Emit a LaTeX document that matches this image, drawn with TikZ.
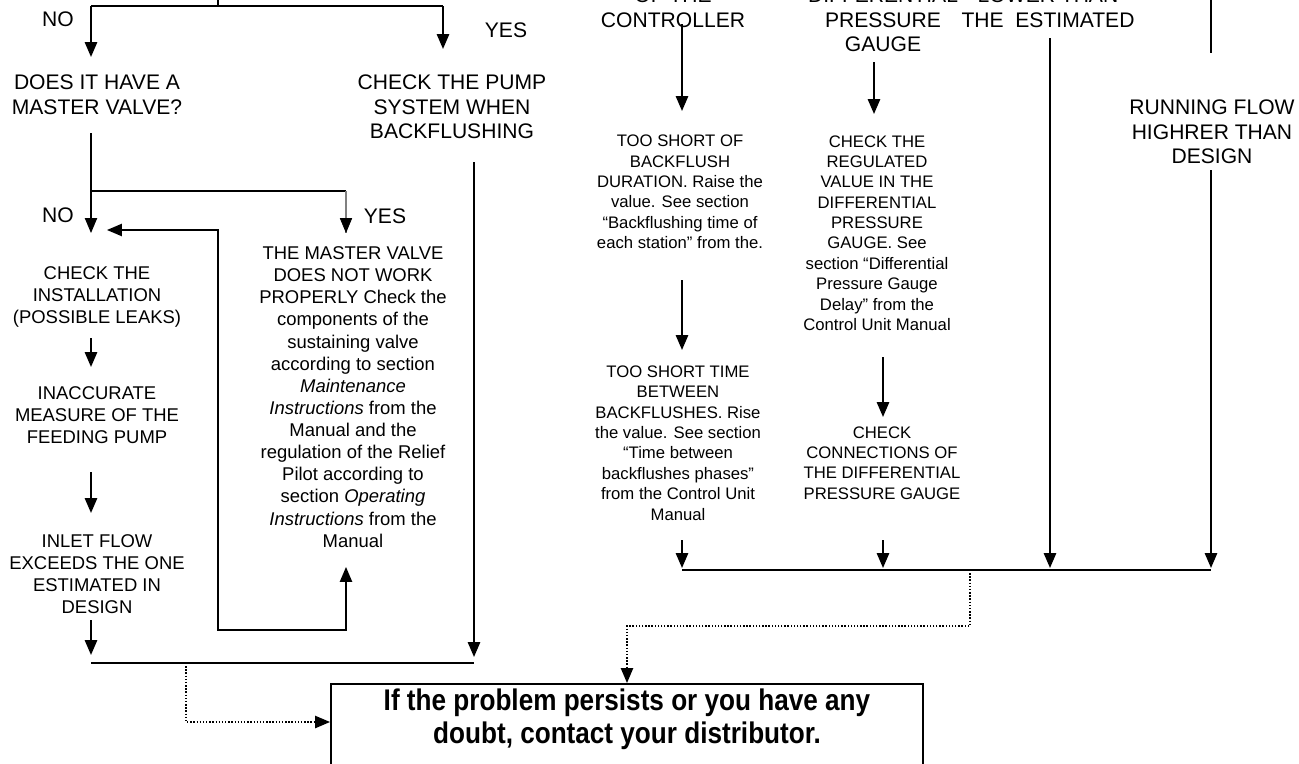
\documentclass[tikz,border=0pt]{standalone}
\usepackage{fontspec}
\setmainfont{Liberation Sans}
\newfontfamily\boxfont{Liberation Sans}[FakeStretch=0.875]
\usetikzlibrary{arrows.meta}

\begin{document}
\begin{tikzpicture}[x=0.02cm,y=-0.02cm,
  bigtxt/.style={align=center,inner sep=0pt,font=\fontsize{12}{14}\selectfont},
  lowtxt/.style={align=center,inner sep=0pt,font=\fontsize{10.5}{12.6}\selectfont},
  smalltxt/.style={align=center,inner sep=0pt,font=\fontsize{9.5}{11.6}\selectfont},
  finalbox/.style={draw,line width=1.1pt,minimum width=592*0.02cm,anchor=north,
    inner xsep=0pt,inner ysep=2.6pt,align=center,font=\boxfont\bfseries\fontsize{17}{18.7}\selectfont},
  tip/.style={-{Triangle[length=8.5pt,width=7pt]}},
  flow/.style={tip,line width=1.1pt},
  thin/.style={line width=0.6pt},
  bar/.style={line width=1.7pt},
  dots/.style={tip,densely dotted,line width=0.8pt}]
\useasboundingbox (0,0) rectangle (1299,764);
\clip (0,0) rectangle (1299,764);

\node[bigtxt] (noA) at (58,19) {NO};
\node[bigtxt] (yesA) at (506,30) {YES};
\node[bigtxt] (qmv) at (97,95) {DOES IT HAVE A\\MASTER VALVE?};
\node[bigtxt] (pump) at (452,107) {CHECK THE PUMP\\SYSTEM WHEN\\BACKFLUSHING};
\node[bigtxt] (noB) at (58,215) {NO};
\node[bigtxt] (yesB) at (385,216) {YES};

\node[lowtxt] (inst) at (97,297) {CHECK THE\\INSTALLATION\\(POSSIBLE LEAKS)};
\node[lowtxt] (meas) at (97,415) {INACCURATE\\MEASURE OF THE\\FEEDING PUMP};
\node[lowtxt] (inlet) at (97,574) {INLET FLOW\\EXCEEDS THE ONE\\ESTIMATED IN\\DESIGN};
\node[lowtxt] (mvbad) at (353,397) {THE MASTER VALVE\\DOES NOT WORK\\PROPERLY Check the\\components of the\\sustaining valve\\according to section\\\textit{Maintenance}\\\textit{Instructions} from the\\Manual and the\\regulation of the Relief\\Pilot according to\\section \textit{Operating}\\\textit{Instructions} from the\\Manual};

\node[bigtxt] (ctrl) at (673,8) {OF THE\\CONTROLLER};
\node[bigtxt] (dpg) at (883,20) {DIFFERENTIAL\\PRESSURE\\GAUGE};
\node[bigtxt] (lower) at (1048,8) {LOWER THAN\\THE\ \ ESTIMATED};
\node[bigtxt] (run) at (1212,132) {RUNNING FLOW\\HIGHRER THAN\\DESIGN};

\node[smalltxt] (short1) at (680,192) {TOO SHORT OF\\BACKFLUSH\\DURATION. Raise the\\value. See section\\“Backflushing time of\\each station” from the.};
\node[smalltxt] (short2) at (678,443) {TOO SHORT TIME\\BETWEEN\\BACKFLUSHES. Rise\\the value. See section\\“Time between\\backflushes phases”\\from the Control Unit\\Manual};
\node[smalltxt] (reg) at (877,233) {CHECK THE\\REGULATED\\VALUE IN THE\\DIFFERENTIAL\\PRESSURE\\GAUGE. See\\section “Differential\\Pressure Gauge\\Delay” from the\\Control Unit Manual};
\node[smalltxt] (conn) at (882,463) {CHECK\\CONNECTIONS OF\\THE DIFFERENTIAL\\PRESSURE GAUGE};

\node[finalbox] (final) at (627,683) {If the problem persists or you have any\\doubt, contact your distributor.\\\mbox{}};

\coordinate (top) at (218,-2);
\coordinate (jT) at (218,6);
\coordinate (jL) at (91,6);
\coordinate (jR) at (443,6);
\coordinate (tL) at (91,57);
\coordinate (tR) at (443,49);
\coordinate (q0) at (91,133);
\coordinate (q1) at (91,191);
\coordinate (q2) at (346,191);
\coordinate (tNo) at (91,233);
\coordinate (tYes) at (346,233);
\coordinate (lp0) at (107,230);
\coordinate (lp1) at (218,230);
\coordinate (lp2) at (218,630);
\coordinate (lp3) at (346,630);
\coordinate (lp4) at (346,567);
\coordinate (p0) at (474,162);
\coordinate (p1) at (474,657);
\coordinate (bl0) at (91,663);
\coordinate (bl1) at (474,663);
\coordinate (d0) at (186,663);
\coordinate (d1) at (186,722);
\coordinate (br0) at (682,570);
\coordinate (br1) at (1211,570);
\coordinate (d2) at (970,570);
\coordinate (d3) at (970,626);
\coordinate (d4) at (627,626);

\draw[line width=1.1pt] (top) -- (jT);
\draw[line width=0.9pt] (jL) -- (jR);
\draw[flow] (jL) -- (tL);
\draw[flow] (jR) -- (tR);
\draw[thin] (q1) -- (q2);
\draw[tip,thin] (q0) -- (tNo);
\draw[thin,gray] (q2) -- (tYes);
\draw[tip] ([yshift=1pt]tYes) -- (tYes);
\draw[{Triangle[length=8.5pt,width=7pt]}-{Triangle[length=8.5pt,width=7pt]},line width=0.8pt]
  (lp0) -- (lp1) -- (lp2) -- (lp3) -- (lp4);

\draw[flow] (91,338) -- (91,367);
\draw[flow] (91,472) -- (91,513);
\draw[flow] (91,620) -- (91,655);
\draw[flow] (p0) -- (p1);
\draw[bar] (bl0) -- (bl1);
\draw[dots] (d0) -- (d1) -- (final.west |- d1);

\draw[flow] (682,24) -- (682,111);
\draw[flow] (874,62) -- (874,114);
\draw[flow] (682,280) -- (682,350);
\draw[flow] (883,357) -- (883,417);
\draw[flow] (682,540) -- (682,568);
\draw[flow] (883,540) -- (883,568);
\draw[flow] (1050,38) -- (1050,568);
\draw[line width=1.1pt] (1211,-2) -- (1211,53);
\draw[flow] (1211,170) -- (1211,568);
\draw[bar] (br0) -- (br1);
\draw[dots] (d2) -- (d3) -- (d4) -- (final.north -| d4);
\end{tikzpicture}
\end{document}
